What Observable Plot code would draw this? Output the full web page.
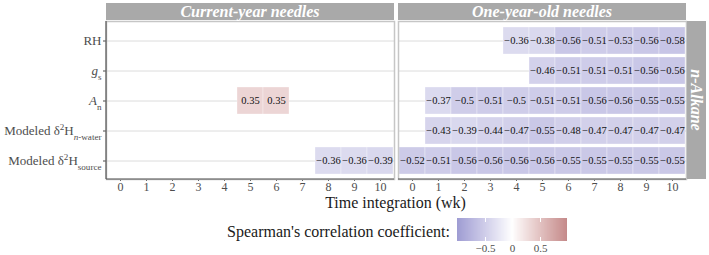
<!DOCTYPE html>
<html>
<head>
<meta charset="utf-8">
<script src="https://cdn.jsdelivr.net/npm/d3@7"></script>
<script src="https://cdn.jsdelivr.net/npm/@observablehq/plot@0.6"></script>
<style>
  body { margin: 0; background: #fff; }
  #chart { position: relative; width: 709px; height: 255px; overflow: hidden; background: #fff;
           font-family: "Liberation Serif", "Times New Roman", serif; }
  #chart svg { display: block; }
  #chart svg, #chart svg text { font-family: "Liberation Serif", "Times New Roman", serif !important; }
  #main { position: absolute; left: 0; top: 0; }
  #legend { position: absolute; left: 447px; top: 216px; }
  #legend-title { position: absolute; right: 259px; top: 224px; font-size: 16px; line-height: 16px;
                  color: #1a1a1a; white-space: nowrap; }
  #legend .tick line { stroke: #fff; stroke-width: 1; stroke-dasharray: 4 15 4; }
</style>
</head>
<body>
<div id="chart">
  <div id="main"></div>
  <div id="legend-title">Spearman's correlation coefficient:</div>
  <div id="legend"></div>
</div>
<script>
// Integration windows (weeks) and the response variables on the y axis
const weeks = [0, 1, 2, 3, 4, 5, 6, 7, 8, 9, 10];
const rows = ["RH", "gs", "An", "nwater", "source"];
const panels = ["Current-year needles", "One-year-old needles"];
const rowStrip = "n-Alkane";

// Significant Spearman coefficients per week (null = not significant)
const curRH     = [null, null, null, null, null, null, null, null, null, null, null];
const curGs     = [null, null, null, null, null, null, null, null, null, null, null];
const curAn     = [null, null, null, null, null, 0.35, 0.35, null, null, null, null];
const curNwater = [null, null, null, null, null, null, null, null, null, null, null];
const curSource = [null, null, null, null, null, null, null, null, -0.36, -0.36, -0.39];

const oldRH     = [null, null, null, null, -0.36, -0.38, -0.56, -0.51, -0.53, -0.56, -0.58];
const oldGs     = [null, null, null, null, null, -0.46, -0.51, -0.51, -0.51, -0.56, -0.56];
const oldAn     = [null, -0.37, -0.5, -0.51, -0.5, -0.51, -0.51, -0.56, -0.56, -0.55, -0.55];
const oldNwater = [null, -0.43, -0.39, -0.44, -0.47, -0.55, -0.48, -0.47, -0.47, -0.47, -0.47];
const oldSource = [-0.52, -0.51, -0.56, -0.56, -0.56, -0.56, -0.55, -0.55, -0.55, -0.55, -0.55];

const legendTicks = [-0.5, 0, 0.5];

const series = [
  [panels[0], "RH", curRH], [panels[0], "gs", curGs], [panels[0], "An", curAn],
  [panels[0], "nwater", curNwater], [panels[0], "source", curSource],
  [panels[1], "RH", oldRH], [panels[1], "gs", oldGs], [panels[1], "An", oldAn],
  [panels[1], "nwater", oldNwater], [panels[1], "source", oldSource]
];
const cells = series.flatMap(([panel, row, vals]) =>
  vals.map((r, i) => ({panel, row, wk: weeks[i], r})).filter(d => d.r != null));

const fmt = d3.format("");
const serif = '"Liberation Serif", "Times New Roman", serif';
const colorScale = {
  type: "linear", domain: [-1, 0, 1],
  range: ["#9f9dd3", "#ffffff", "#c48a8a"], interpolate: "lab"
};

const W = 709, H = 212;
const plot = Plot.plot({
  width: W, height: H,
  marginLeft: 105, marginRight: 23, marginTop: 21, marginBottom: 33,
  style: {fontFamily: serif, fontSize: "12px", color: "#4d4d4d", background: "#fff"},
  facet: {data: cells, x: "panel"},
  fx: {domain: panels, paddingInner: 0.0137, paddingOuter: 0, axis: null, label: null},
  x: {type: "band", domain: weeks, padding: 0, tickSize: 2, tickPadding: 1, label: null},
  y: {type: "band", domain: rows, paddingInner: 0.1, paddingOuter: 0.15, tickSize: 3, tickPadding: 2, label: null},
  color: colorScale,
  marks: [
    Plot.ruleY(rows, {stroke: "#dcdcdc", strokeWidth: 1}),
    Plot.cell(cells, {x: "wk", y: "row", fill: "r", inset: 0, stroke: "#fff", strokeOpacity: 0.45, strokeWidth: 0.7}),
    Plot.text(cells, {x: "wk", y: "row", text: d => fmt(d.r), fill: "#111", fontSize: 10.5}),
    Plot.frame({stroke: "#c6c6c6", strokeWidth: 1.5})
  ]
});
document.getElementById("main").appendChild(plot);

// Rich y tick labels (italics, sub/superscripts)
const sup = s => `<tspan baseline-shift="super" font-size="70%">${s}</tspan>`;
const sub = s => `<tspan baseline-shift="sub" font-size="70%">${s}</tspan>`;
const yLabels = {
  RH: "RH",
  gs: `<tspan font-style="italic">g</tspan>${sub("s")}`,
  An: `<tspan font-style="italic">A</tspan>${sub("n")}`,
  nwater: `Modeled δ${sup("2")}H${sub('<tspan font-style="italic">n</tspan>-water')}`,
  source: `Modeled δ${sup("2")}H${sub("source")}`
};
const svg = d3.select(plot);
svg.selectAll("text")
  .filter(function () { return Object.prototype.hasOwnProperty.call(yLabels, this.textContent); })
  .each(function () {
    const key = this.textContent;
    this.innerHTML = yLabels[key];
    this.setAttribute("font-size", "13px");
    this.setAttribute("fill", "#4d4d4d");
  });

// Panel strips and axis lines, positioned from the plot's own scales
const fx = plot.scale("fx");
const yScale = plot.scale("y");
const [yTop, yBottom] = yScale.range;
const deco = svg.append("g");
for (const p of panels) {
  const x0 = fx.apply(p);
  deco.append("rect").attr("x", x0).attr("y", 3).attr("width", fx.bandwidth).attr("height", 17)
    .attr("fill", "#a9a9a9");
  deco.append("text").attr("x", x0 + fx.bandwidth / 2).attr("y", 17)
    .attr("text-anchor", "middle").attr("fill", "#fff").attr("font-size", "16px")
    .attr("font-weight", "bold").attr("font-style", "italic").text(p);
  deco.append("line").attr("x1", x0).attr("x2", x0 + fx.bandwidth).attr("y1", yBottom).attr("y2", yBottom)
    .attr("stroke", "#555").attr("stroke-width", 1.2);
}
const firstX = fx.apply(panels[0]);
deco.append("line").attr("x1", firstX).attr("x2", firstX).attr("y1", yTop).attr("y2", yBottom)
  .attr("stroke", "#555").attr("stroke-width", 1.2);

const lastRight = fx.apply(panels[1]) + fx.bandwidth;
deco.append("rect").attr("x", lastRight + 1).attr("y", yTop).attr("width", 19).attr("height", yBottom - yTop)
  .attr("fill", "#a9a9a9");
deco.append("text")
  .attr("transform", `translate(${lastRight + 10.5 - 5.3},${(yTop + yBottom) / 2}) rotate(90)`)
  .attr("text-anchor", "middle").attr("fill", "#fff").attr("font-size", "16px")
  .attr("font-weight", "bold").attr("font-style", "italic").text(rowStrip);

// x axis title centred under both panels
const [fxLeft, fxRight] = fx.range;
deco.append("text").attr("x", (fxLeft + fxRight) / 2).attr("y", 208)
  .attr("text-anchor", "middle").attr("fill", "#1a1a1a").attr("font-size", "16px")
  .text("Time integration (wk)");

// Colour ramp legend
const legend = Plot.legend({
  color: colorScale,
  legend: "ramp",
  width: 130, height: 38,
  marginLeft: 10, marginRight: 10, marginTop: 2, marginBottom: 13,
  ticks: legendTicks, tickFormat: fmt, tickSize: 0, label: null,
  style: {fontFamily: serif, fontSize: "11px", color: "#4d4d4d", background: "transparent", overflow: "visible"}
});
document.getElementById("legend").appendChild(legend);
</script>
</body>
</html>
